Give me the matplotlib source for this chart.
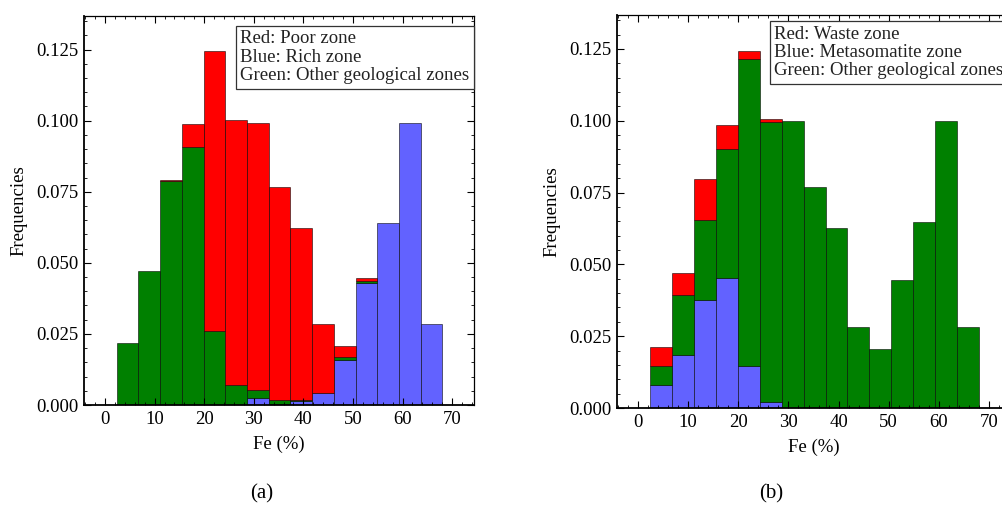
import matplotlib
matplotlib.use("Agg")
import matplotlib.pyplot as plt
import numpy as np
from matplotlib.ticker import MultipleLocator

plt.rcParams['font.family'] = ['Liberation Serif', 'DejaVu Serif']

# bin edges of Fe (%)
edges = [2.35, 6.73, 11.11, 15.49, 19.87, 24.25, 28.63, 33.01, 37.39,
         41.77, 46.15, 50.53, 54.91, 59.29, 63.67, 68.05]

# panel (a): segment heights, stacked blue -> green -> red
a_blue = [0, 0, 0, 0, 0, 0, 0.0023, 0.0005, 0.0014, 0.0041, 0.0158, 0.0430, 0.0641, 0.0992, 0.0284]
a_green = [0.0217, 0.0472, 0.0789, 0.0908, 0.0261, 0.0070, 0.0030, 0.0013, 0.0002, 0, 0.0012, 0.0005, 0, 0, 0]
a_red = [0, 0, 0.0004, 0.0080, 0.0983, 0.0934, 0.0939, 0.0747, 0.0607, 0.0243, 0.0037, 0.0010, 0, 0, 0]

# panel (b)
b_blue = [0.0081, 0.0186, 0.0376, 0.0452, 0.0147, 0.0022, 0, 0, 0, 0, 0, 0, 0, 0, 0]
b_green = [0.0065, 0.0208, 0.0277, 0.0450, 0.1068, 0.0973, 0.0998, 0.0771, 0.0626,
           0.0281, 0.0206, 0.0444, 0.0646, 0.0998, 0.0281]
b_red = [0.0068, 0.0077, 0.0145, 0.0084, 0.0029, 0.0012, 0, 0, 0, 0, 0, 0, 0, 0, 0]

legend_a = "Red: Poor zone\nBlue: Rich zone\nGreen: Other geological zones"
legend_b = "Red: Waste zone\nBlue: Metasomatite zone\nGreen: Other geological zones"

col_blue = '#6262ff'
col_green = '#008000'
col_red = '#ff0000'

fig = plt.figure(figsize=(10.02, 5.09), dpi=100)
ax1 = fig.add_axes([0.0838, 0.2043, 0.3892, 0.7642])
ax2 = fig.add_axes([0.6155, 0.1984, 0.3936, 0.7720])


def stacked(ax, blue, green, red, legend, legx, legy):
    e = np.array(edges)
    left = e[:-1]
    w = np.diff(e)
    bottom = np.zeros(len(left))
    for vals, c in [(blue, col_blue), (green, col_green), (red, col_red)]:
        v = np.array(vals)
        m = v > 0
        ax.bar(left[m], v[m], width=w[m], bottom=bottom[m], align='edge',
               color=c, edgecolor=(0, 0, 0, 0.55), linewidth=0.7)
        bottom = bottom + v
    ax.set_xlim(-4.24, 74.4)
    ax.set_ylim(0, 0.1368)
    ax.xaxis.set_major_locator(MultipleLocator(10))
    ax.xaxis.set_minor_locator(MultipleLocator(2))
    ax.yaxis.set_major_locator(MultipleLocator(0.025))
    ax.yaxis.set_minor_locator(MultipleLocator(0.005))
    ax.set_yticks(np.arange(0, 0.126, 0.025))
    ax.set_yticklabels(['%.3f' % t for t in np.arange(0, 0.126, 0.025)])
    ax.tick_params(which='both', direction='in', top=True, right=True, labelsize=13.5, pad=4)
    ax.tick_params(which='major', length=5, width=0.8)
    ax.tick_params(which='minor', length=2.5, width=0.6)
    for s in ax.spines.values():
        s.set_linewidth(0.9)
    ax.spines['left'].set_linewidth(1.3)
    ax.spines['bottom'].set_linewidth(1.3)
    ax.set_xlabel('Fe (%)', fontsize=13.5, labelpad=6)
    ax.set_ylabel('Frequencies', fontsize=13.5, labelpad=6)
    ax.text(legx, legy, legend, transform=ax.transAxes, ha='left', va='top',
            fontsize=13.5, linespacing=1.1, color='#222222',
            bbox=dict(boxstyle='square,pad=0.25', fc='white', ec='#333333', lw=0.9))


stacked(ax1, a_blue, a_green, a_red, legend_a, 0.401, 0.963)
stacked(ax2, b_blue, b_green, b_red, legend_b, 0.400, 0.973)

fig.text(0.2615, 0.03, '(a)', ha='center', va='center', fontsize=15)
fig.text(0.7695, 0.03, '(b)', ha='center', va='center', fontsize=15)

fig.savefig('out.png', dpi=100)
